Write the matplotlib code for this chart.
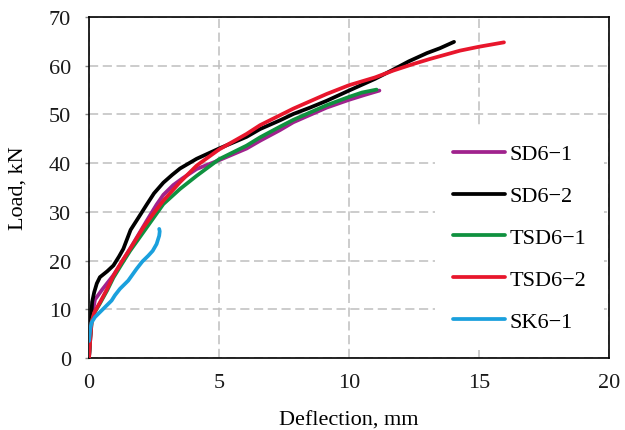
import matplotlib
matplotlib.use("Agg")
import matplotlib.pyplot as plt

# ---- data ----
labels = ["SD6\u22121", "SD6\u22122", "TSD6\u22121", "TSD6\u22122", "SK6\u22121"]
colors = ["#A0228D", "#000000", "#0F913F", "#E8162C", "#1AA0DD"]

sd61_x = [0, 0.05, 0.1, 0.23, 0.5, 0.94, 1.3, 1.7, 2.2, 2.6, 2.86, 3.24, 3.6, 4.14, 5.0, 6.06, 6.58, 7.35, 7.86, 9.14, 10.0, 10.6, 11.17]
sd61_y = [0, 4, 8, 12.0, 14.0, 17.0, 20.0, 23.5, 28.0, 31.5, 33.5, 35.5, 36.9, 38.8, 40.6, 43.0, 44.6, 46.8, 48.4, 51.4, 53.0, 54.0, 54.9]

sd62_x = [0, 0.08, 0.12, 0.2, 0.3, 0.42, 0.7, 0.94, 1.15, 1.32, 1.6, 1.9, 2.22, 2.5, 2.86, 3.2, 3.5, 4.14, 5.0, 6.06, 6.58, 7.35, 7.86, 8.5, 9.14, 10.0, 11.0, 11.7, 12.3, 13.0, 13.5, 14.04]
sd62_y = [0, 8, 11.5, 13.5, 15.3, 16.6, 17.8, 19.0, 20.8, 22.4, 26.3, 28.8, 31.5, 33.8, 36.0, 37.6, 38.9, 40.9, 43.0, 45.4, 47.0, 48.8, 50.1, 51.4, 52.8, 54.9, 57.3, 59.2, 60.9, 62.6, 63.6, 64.9]

tsd61_x = [0, 0.05, 0.1, 0.2, 0.42, 0.7, 0.94, 1.25, 1.58, 2.22, 2.86, 3.5, 4.14, 5.0, 6.06, 6.58, 7.35, 7.86, 9.14, 10.0, 10.5, 11.06]
tsd61_y = [0, 4, 7.3, 9.2, 11.2, 13.9, 16.5, 19.2, 22.0, 26.8, 31.6, 34.7, 37.4, 40.8, 43.6, 45.3, 47.5, 48.9, 51.9, 53.6, 54.5, 55.1]

tsd62_x = [0, 0.05, 0.1, 0.2, 0.42, 0.7, 0.94, 1.25, 1.58, 2.09, 2.5, 2.86, 3.5, 4.14, 5.0, 6.06, 6.58, 7.22, 7.86, 9.14, 10.0, 11.0, 11.7, 12.5, 13.12, 14.27, 15.0, 15.96]
tsd62_y = [0, 4, 7.3, 9.3, 11.4, 14.2, 16.9, 19.7, 22.4, 26.8, 29.8, 32.3, 36.1, 39.5, 42.8, 46.0, 47.8, 49.5, 51.2, 54.2, 56.0, 57.6, 59.0, 60.4, 61.4, 63.1, 63.9, 64.8]

sk61_x = [0, 0.01, 0.05, 0.1, 0.23, 0.55, 0.87, 1.0, 1.19, 1.51, 1.83, 2.05, 2.28, 2.45, 2.6, 2.7, 2.72, 2.7]
sk61_y = [3.5, 3.9, 6.0, 7.3, 8.4, 10.1, 11.8, 12.9, 14.2, 15.9, 18.3, 19.8, 21.0, 22.0, 23.4, 25.1, 26.0, 26.5]

xs = [sd61_x, sd62_x, tsd61_x, tsd62_x, sk61_x]
ys = [sd61_y, sd62_y, tsd61_y, tsd62_y, sk61_y]

x_ticks = [0, 5, 10, 15, 20]
y_ticks = [0, 10, 20, 30, 40, 50, 60, 70]
x_label = "Deflection, mm"
y_label = "Load, kN"

# ---- plot ----
plt.rcParams['font.family'] = ['Liberation Serif', 'DejaVu Serif']

FS = 16
fig = plt.figure(figsize=(6.25, 4.31), dpi=100)
ax = fig.add_axes([0.1424, 0.167, 0.832, 0.7912])

for x, y, c, lab in zip(xs, ys, colors, labels):
    ax.plot(x, y, color=c, lw=2.7, label=lab, solid_capstyle='round', solid_joinstyle='round', zorder=3)

ax.set_xlim(0, 20)
ax.set_ylim(0, 70)
ax.set_xticks(x_ticks)
ax.set_yticks(y_ticks)
ax.tick_params(axis='both', labelsize=FS, colors='#1a1a1a')
ax.tick_params(axis='x', length=0, pad=11)
ax.tick_params(axis='y', length=3, width=1, direction='out', pad=10, color='#888888')

ax.grid(True, color='#BFBFBF', linestyle=(0, (6, 3)), linewidth=1.1, zorder=0)
ax.set_axisbelow(True)
for s in ax.spines.values():
    s.set_color('black')
    s.set_linewidth(1.2)

ax.set_xlabel(x_label, fontsize=FS, labelpad=13)
ax.set_ylabel(y_label, fontsize=FS, labelpad=15)

leg = ax.legend(loc='upper left', bbox_to_anchor=(0.665, 0.680), borderaxespad=0,
                fontsize=FS, frameon=True, fancybox=False, framealpha=1,
                handlelength=2.35, handletextpad=0.22, labelspacing=0.96,
                borderpad=0.8)
leg.get_frame().set_edgecolor('none')
leg.get_frame().set_facecolor('white')
leg.set_zorder(5)

fig.savefig("out.png", dpi=100)
